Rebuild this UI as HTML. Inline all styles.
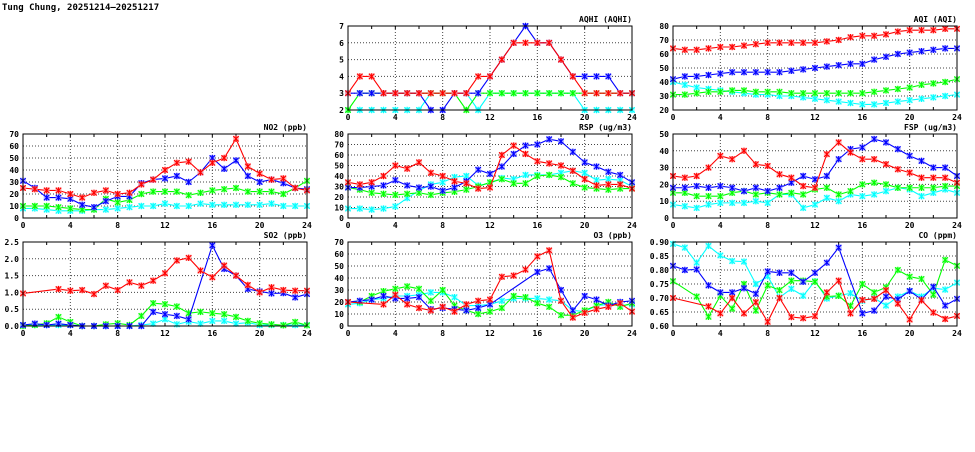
<!DOCTYPE html>
<html><head><meta charset="utf-8"><style>
body{margin:0;background:#fff;width:975px;height:447px;overflow:hidden}
svg text{font-family:"DejaVu Sans Mono","Liberation Mono",monospace;font-weight:bold}
</style></head><body>
<svg id="c" width="975" height="447" xmlns="http://www.w3.org/2000/svg">
<text x="2" y="10" font-size="9">Tung Chung, 20251214—20251217</text>
</svg>
<script>
const hours=[0,1,2,3,4,5,6,7,8,9,10,11,12,13,14,15,16,17,18,19,20,21,22,23,24];
const xTicks=[0,4,8,12,16,20,24];
const aqhiRed=[3,4,4,3,3,3,3,3,3,3,3,4,4,5,6,6,6,6,5,4,3,3,3,3,3];
const aqhiBlue=[3,3,3,3,3,3,3,2,2,3,3,3,4,5,6,7,6,6,5,4,4,4,4,3,3];
const aqhiGreen=[2,3,3,3,3,3,3,3,3,3,2,3,3,3,3,3,3,3,3,3,3,3,3,3,3];
const aqhiCyan=[2,2,2,2,2,2,2,3,3,3,3,2,3,3,3,3,3,3,3,3,2,2,2,2,2];
const aqiRed=[64,63,63,64,65,65,66,67,68,68,68,68,68,69,70,72,73,73,74,76,77,77,77,78,78];
const aqiBlue=[42,44,44,45,46,47,47,47,47,47,48,49,50,51,52,53,53,56,58,60,61,62,63,64,64];
const aqiGreen=[31,31,32,33,33,34,34,33,33,33,32,32,32,32,32,32,32,33,34,35,36,38,39,40,42];
const aqiCyan=[40,38,36,35,34,33,32,31,31,30,30,29,28,27,26,25,24,24,25,26,27,28,29,30,31];
const no2Red=[25,24,23,23,20,17,21,23,20,21,28,32,40,46,47,38,46,50,66,43,37,32,33,25,23];
const no2Blue=[31,25,17,17,16,11,9,14,18,18,29,32,33,35,30,38,50,41,48,35,30,32,29,25,24];
const no2Green=[10,10,10,9,8,7,7,16,13,15,20,22,22,22,19,21,23,24,25,22,22,22,20,25,31];
const no2Cyan=[8,8,7,6,6,6,7,7,8,9,10,10,12,10,10,12,11,11,11,11,11,12,10,10,10];
const rspRed=[34,32,34,40,50,47,53,43,40,35,33,28,29,60,69,61,54,52,50,45,37,31,32,32,28];
const rspBlue=[29,29,30,31,36,31,29,30,26,29,35,46,42,49,61,69,70,75,73,63,53,49,44,41,34];
const rspGreen=[29,27,24,23,22,23,24,22,24,25,27,30,34,37,33,33,40,41,39,33,29,28,27,28,28];
const rspCyan=[9,9,8,9,11,19,26,32,34,39,40,31,33,38,37,41,41,41,43,45,43,36,37,36,30];
const fspRed=[25,24,25,30,37,35,40,32,31,26,24,19,18,38,45,39,35,35,32,29,27,24,24,24,21];
const fspBlue=[18,18,19,18,19,18,16,18,16,18,21,25,23,25,35,41,42,47,45,41,37,34,30,30,25];
const fspGreen=[15,15,13,13,13,15,16,14,15,14,15,14,17,18,14,16,20,21,20,18,18,18,18,19,19];
const fspCyan=[8,7,6,8,9,9,9,10,9,14,14,6,8,12,10,14,13,14,16,18,17,13,15,17,15];
const so2Red=[0.97,null,null,1.1,1.05,1.07,0.95,1.2,1.07,1.3,1.2,1.35,1.57,1.95,2.03,1.65,1.45,1.8,1.5,1.22,1.0,1.15,1.07,1.05,1.05];
const so2Blue=[0.03,0.07,0.03,0.07,0.03,0,0,0,0,0,0,0.42,0.35,0.3,0.2,null,2.4,1.7,1.5,1.1,1.03,0.97,0.98,0.85,0.95];
const so2Green=[0,0.03,0.08,0.27,0.12,0,0,0.05,0.08,0.03,0.3,0.68,0.65,0.58,0.38,0.42,0.38,0.35,0.27,0.15,0.08,0.05,0.02,0.12,0.02];
const so2Cyan=[0.03,0.03,0.03,0.03,0.03,0,0,0,0,0,0.03,0.07,0.2,0.05,0.13,0.07,0.15,0.15,0.07,0.1,0.03,0.03,0.03,0.03,0.03];
const o3Red=[20,null,null,18,26,18,15,13,16,12,18,21,22,41,42,47,58,63,21,7,11,14,16,19,12];
const o3Blue=[20,21,22,25,23,23,24,14,15,14,13,15,18,null,null,null,45,48,30,13,25,22,17,20,21];
const o3Green=[20,20,25,29,31,33,31,21,30,17,13,10,12,15,25,24,19,16,9,9,13,17,20,16,19];
const o3Cyan=[18,19,22,23,25,25,26,28,28,24,17,17,18,21,23,23,23,22,21,13,12,17,18,17,18];
const coRed=[0.70,null,null,0.67,0.645,0.70,0.645,0.685,0.615,0.70,0.632,0.628,0.635,0.72,0.762,0.645,0.693,0.697,0.728,0.68,0.623,0.692,0.648,0.625,0.636];
const coBlue=[0.815,0.80,0.802,0.745,0.72,0.72,0.735,0.715,0.795,0.79,0.79,0.758,0.79,0.826,0.88,null,0.645,0.655,0.705,0.695,0.725,0.695,0.74,0.673,0.697];
const coGreen=[0.76,null,0.705,0.633,0.708,0.662,0.75,0.655,0.745,0.728,0.762,0.762,0.758,0.705,0.708,0.672,0.75,0.72,0.738,0.80,0.776,0.768,0.712,0.836,0.815];
const coCyan=[0.893,0.88,0.826,0.886,0.852,0.832,0.83,0.75,0.778,0.702,0.733,0.708,0.76,0.698,0.708,0.717,0.69,0.70,0.673,0.705,0.725,0.705,0.735,0.73,0.755];
const aqhiTicks=[2,3,4,5,6,7];
const aqiTicks=[20,30,40,50,60,70,80];
const no2Ticks=[0,10,20,30,40,50,60,70];
const rspTicks=[0,10,20,30,40,50,60,70,80];
const fspTicks=[0,10,20,30,40,50];
const so2Ticks=[0,0.5,1.0,1.5,2.0,2.5];
const o3Ticks=[0,10,20,30,40,50,60,70];
const coTicks=[0.60,0.65,0.70,0.75,0.80,0.85,0.90];

const NS='http://www.w3.org/2000/svg';
const svg=document.getElementById('c');
function mk(tag,attrs,parent){const e=document.createElementNS(NS,tag);for(const k in attrs)e.setAttribute(k,attrs[k]);(parent||svg).appendChild(e);return e;}
const W=284,H=84;
const colors=['#00ffff','#00ff00','#0000ff','#ff0000'];
const halo=['#99ffff','#99ff99','#9999ff','#ff9999'];
const sNames=['cyan','green','blue','red'];
function panel(id,title,left,top,ticks,dec,series){
  const g=mk('g',{});
  
  
  const y0=ticks[0],y1=ticks[ticks.length-1];
  const X=h=>left+h/24*W, Y=v=>top+H-(v-y0)/(y1-y0)*H;
  ticks.forEach(t=>{
    if(t!==y0&&t!==y1){const l=mk('line',{x1:left,x2:left+W,y1:Y(t),y2:Y(t),stroke:'#444','stroke-width':1,'stroke-dasharray':'1,2'},g);}
    const tx=mk('text',{x:left-4,y:Y(t)+3,'font-size':8,'text-anchor':'end'},g);tx.textContent=t.toFixed(dec);
    
  });
  xTicks.forEach(h=>{
    if(h!==0&&h!==24){const l=mk('line',{x1:X(h),x2:X(h),y1:top,y2:top+H,stroke:'#444','stroke-width':1,'stroke-dasharray':'1,2'},g);}
    const tx=mk('text',{x:X(h),y:top+H+10,'font-size':8,'text-anchor':'middle'},g);tx.textContent=h;
    
  });
  for(let h=2;h<24;h+=2){mk('line',{x1:X(h),x2:X(h),y1:top,y2:top+3,stroke:'#000'},g);mk('line',{x1:X(h),x2:X(h),y1:top+H,y2:top+H-3,stroke:'#000'},g);}
  const tt=mk('text',{x:left+W,y:top-4,'font-size':8,'text-anchor':'end'},g);tt.textContent=title;
  
  series.forEach((s,i)=>{
    const pts=[];hours.forEach((h,j)=>{if(s[j]!==null)pts.push([X(h),Y(s[j])]);});
    const pl=mk('polyline',{points:pts.map(p=>p.join(',')).join(' '),fill:'none',stroke:colors[i],'stroke-width':1.1},g);
    
    pts.forEach(p=>{
      const m=mk('g',{},g);
      
      mk('rect',{x:p[0]-3,y:p[1]-3,width:6,height:6,fill:halo[i],opacity:0.7},m);
      const d=`M${p[0]-2.7},${p[1]-2.7}L${p[0]+2.7},${p[1]+2.7}M${p[0]-2.7},${p[1]+2.7}L${p[0]+2.7},${p[1]-2.7}M${p[0]},${p[1]-3.2}L${p[0]},${p[1]+3.2}`;
      mk('path',{d:d,stroke:colors[i],'stroke-width':1.1},m);
    });
  });
  const fr=mk('rect',{x:left,y:top,width:W,height:H,fill:'none',stroke:'#000','stroke-width':1},g);
  
}
panel('aqhi','AQHI (AQHI)',348,26,aqhiTicks,0,[aqhiCyan,aqhiGreen,aqhiBlue,aqhiRed]);
panel('aqi','AQI (AQI)',673,26,aqiTicks,0,[aqiCyan,aqiGreen,aqiBlue,aqiRed]);
panel('no2','NO2 (ppb)',23,134,no2Ticks,0,[no2Cyan,no2Green,no2Blue,no2Red]);
panel('rsp','RSP (ug/m3)',348,134,rspTicks,0,[rspCyan,rspGreen,rspBlue,rspRed]);
panel('fsp','FSP (ug/m3)',673,134,fspTicks,0,[fspCyan,fspGreen,fspBlue,fspRed]);
panel('so2','SO2 (ppb)',23,242,so2Ticks,1,[so2Cyan,so2Green,so2Blue,so2Red]);
panel('o3','O3 (ppb)',348,242,o3Ticks,0,[o3Cyan,o3Green,o3Blue,o3Red]);
panel('co','CO (ppm)',673,242,coTicks,2,[coCyan,coGreen,coBlue,coRed]);
</script>
</body></html>
